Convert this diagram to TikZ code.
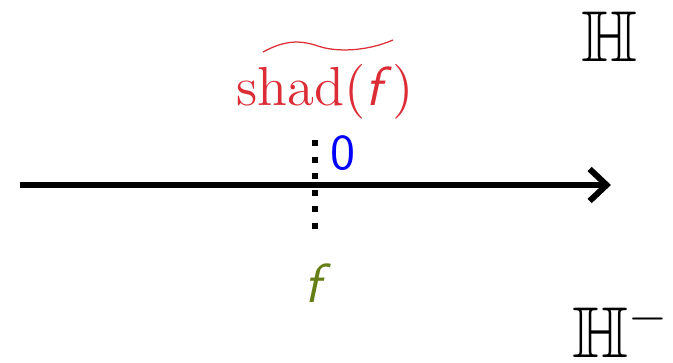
\documentclass[tikz,border=0pt]{standalone}
\usepackage{amsfonts}
\usetikzlibrary{arrows.meta}
\definecolor{shadred}{RGB}{220,45,55}
\definecolor{fgreen}{RGB}{100,125,20}
\begin{document}
\begin{tikzpicture}[x=0.2pt,y=-0.2pt,
  lbl/.style={inner sep=0pt,anchor=center},
  axis/.style={line width=1.3pt,-{Straight Barb[length=3.4pt,width=6.4pt,line width=1.2pt]}},
  dotline/.style={line width=1.2pt,dash pattern=on 1.2pt off 2.1pt}]
\useasboundingbox (0,0) rectangle (673,363);
\coordinate (al) at (20,185);
\coordinate (ar) at (611,185);
\draw[axis] (al) -- (ar);
\coordinate (dt) at (315,140);
\coordinate (db) at (315,229);
\draw[dotline] (dt) -- (db);
\node[lbl,text=blue,font=\fontsize{10}{12}\sffamily] (zero) at (343,153) {0};
\node[lbl,text=shadred,font=\fontsize{11}{13}\selectfont,anchor=base] (shad) at (325,105) {shad$($\textsf{\itshape f}$)$};
\draw[shadred,line width=0.25pt] (263,52) .. controls (285,40) and (300,40) .. (318,46) .. controls (335,52) and (365,52) .. (393,40);
\node[lbl,text=fgreen,font=\fontsize{11}{13}\sffamily\itshape] (f) at (313,283) {f};
\node[lbl,font=\fontsize{14.4}{16}\selectfont] (H) at (610,37) {$\mathbb{H}$};
\node[lbl,font=\fontsize{14.4}{16}\selectfont,anchor=west] (Hm) at (572,330) {$\mathbb{H}^{-}$};
\end{tikzpicture}
\end{document}
